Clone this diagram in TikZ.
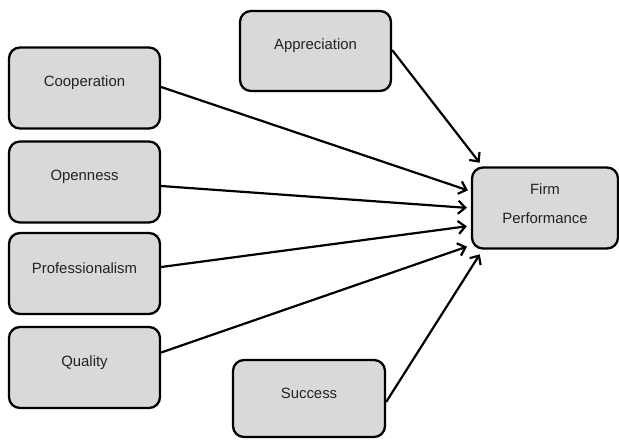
\documentclass[tikz,border=0pt]{standalone}
\usepackage{fontspec}
\setmainfont{Liberation Sans}
\usetikzlibrary{arrows.meta,calc}
\definecolor{boxgray}{HTML}{D9D9D9}
\definecolor{txtgray}{HTML}{222222}
\tikzset{
  box/.style={draw=black, fill=boxgray, line width=2.3pt, rounded corners=11pt,
    minimum width=151pt, minimum height=81pt, inner sep=0pt},
  boxtext/.style={text=txtgray, font=\fontsize{14.9}{17.8}\selectfont},
  conn/.style={line width=2.2pt, -{Straight Barb[length=7pt,width=13pt,line width=2.2pt]}, shorten >=2pt}
}
\begin{document}
\begin{tikzpicture}[x=1pt,y=-1pt]
\useasboundingbox (0,0) rectangle (619,440);
\node[box, label={[boxtext,yshift=5pt]center:Cooperation}] (coop) at (84.5,88) {};
\node[box, label={[boxtext,yshift=5pt]center:Openness}] (open) at (84.5,182) {};
\node[box, label={[boxtext,yshift=5pt]center:Professionalism}] (prof) at (84.5,273.5) {};
\node[box, label={[boxtext,yshift=5pt]center:Quality}] (qual) at (84.5,367.5) {};
\node[box, minimum height=80pt, label={[boxtext,yshift=5pt]center:Appreciation}] (appr) at (315.5,51) {};
\node[box, minimum width=152pt, minimum height=77pt, label={[boxtext,yshift=5pt]center:Success}] (succ) at (309,398.5) {};
\node[box, minimum width=146pt, minimum height=81pt,
  label={[boxtext,align=center,yshift=4.5pt]center:Firm\\[11pt]Performance}] (firm) at (545,208) {};
\draw[conn] ($(coop.east)+(0,-1)$) -- ($(firm.west)+(-1,-17)$);
\draw[conn] ($(open.east)+(0,4)$) -- ($(firm.west)+(-2,0)$);
\draw[conn] ($(prof.east)+(0,-6.5)$) -- ($(firm.west)+(-2,18)$);
\draw[conn] ($(qual.east)+(0,-15)$) -- ($(firm.west)+(-2,38)$);
\draw[conn] ($(appr.east)+(0,-1)$) -- ($(firm.north west)+(10,-2)$);
\draw[conn] ($(succ.east)+(0,3.5)$) -- ($(firm.south west)+(10,3)$);
\end{tikzpicture}
\end{document}
